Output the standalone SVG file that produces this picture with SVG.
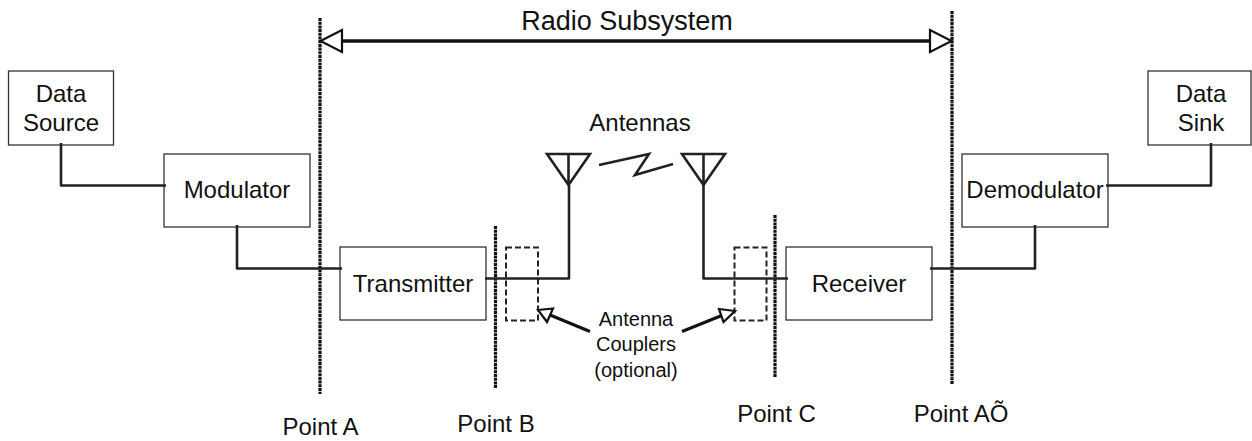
<svg xmlns="http://www.w3.org/2000/svg" width="1252" height="441" viewBox="0 0 1252 441">
<style>
text{font-family:"Liberation Sans",Arial,sans-serif;font-size:24px;fill:#111;text-anchor:middle}
text.small{font-size:20px}
.box{fill:#fff;stroke:#333;stroke-width:1.3}
.wire{fill:none;stroke:#222;stroke-width:2.600;stroke-linejoin:round}
.point{fill:none;stroke:#111;stroke-width:3.200;stroke-dasharray:3 .7}
.coupler{fill:none;stroke:#222;stroke-width:2;stroke-dasharray:6 3}
.ant{fill:none;stroke:#222;stroke-width:2.600}
.head{fill:#fff;stroke:#111;stroke-width:2.200}
</style>
<g id="point-lines">
<path class="point" d="M320 18V394"/>
<path class="point" d="M495.500 226V388"/>
<path class="point" d="M775 215V377"/>
<path class="point" d="M952 11V384"/>
</g>
<g id="couplers">
<rect class="coupler" x="506" y="247.500" width="32" height="73"/>
<rect class="coupler" x="734.500" y="247.500" width="32" height="73"/>
</g>
<g id="data-source"><rect class="box" x="8.500" y="71" width="105" height="74"/><text x="61" y="102">Data</text><text x="61" y="131">Source</text></g>
<g id="modulator"><rect class="box" x="164" y="154" width="146" height="73"/><text x="237" y="198">Modulator</text></g>
<g id="transmitter"><rect class="box" x="340" y="247" width="146" height="73"/><text x="413" y="292">Transmitter</text></g>
<g id="receiver"><rect class="box" x="786" y="247" width="146" height="73"/><text x="859" y="292">Receiver</text></g>
<g id="demodulator"><rect class="box" x="962" y="154" width="146" height="73"/><text x="1035" y="198">Demodulator</text></g>
<g id="data-sink"><rect class="box" x="1148" y="71" width="103" height="74"/><text x="1201" y="102">Data</text><text x="1201" y="131">Sink</text></g>
<g id="connectors">
<path class="wire" d="M61 143V185.500H166"/>
<path class="wire" d="M237 225V268.500H342"/>
<path class="wire" d="M485 278.500H569V185"/>
<path class="wire" d="M703.500 185V278.500H788"/>
<path class="wire" d="M930 268.500H1035V225"/>
<path class="wire" d="M1106 185.500H1211V143"/>
<path d="M342 41H930" fill="none" stroke="#111" stroke-width="3.500"/>
<path class="head" d="M320.500 41L342 30V52Z"/>
<path class="head" d="M951.500 41L930 30V52Z"/>
<path d="M590 331.500L550 315" fill="none" stroke="#111" stroke-width="3"/>
<path class="head" d="M538 310L553 308.500L547 322Z"/>
<path d="M682 331.500L723 315" fill="none" stroke="#111" stroke-width="3"/>
<path class="head" d="M735 311L719 309L723.500 322Z"/>
<path d="M599 165L649 154L635 175L673 164" fill="none" stroke="#222" stroke-width="2.600"/>
</g>
<g id="antenna-tx"><path class="ant" d="M547 154H590L568.500 185ZM568.500 154V185"/></g>
<g id="antenna-rx"><path class="ant" d="M682 154H725L703.500 185ZM703.500 154V185"/></g>
<g id="labels">
<text x="627" y="30" style="font-size:27px">Radio Subsystem</text>
<text x="640" y="131">Antennas</text>
<text class="small" x="636" y="326">Antenna</text>
<text class="small" x="636" y="351">Couplers</text>
<text class="small" x="636" y="377">(optional)</text>
<text x="320.500" y="435">Point A</text>
<text x="496" y="432">Point B</text>
<text x="776.500" y="422">Point C</text>
<text x="961" y="422">Point AÕ</text>
</g>
</svg>
